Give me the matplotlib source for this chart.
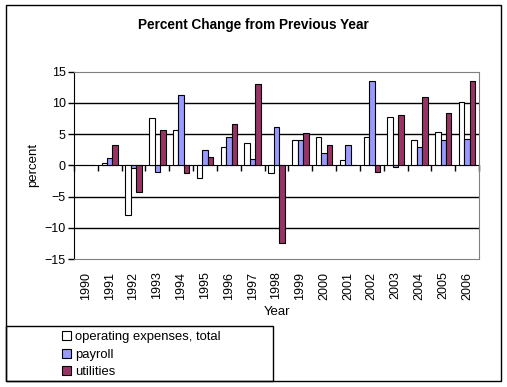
import matplotlib.pyplot as plt
import matplotlib.patches as mpatches
import numpy as np

plt.rcParams['font.family'] = ['Liberation Sans', 'DejaVu Sans']

# data
years = [str(y) for y in range(1990, 2007)]
operating = [0, 0.3, -8.0, 7.6, 5.6, -2.1, 3.0, 3.5, -1.3, 4.0, 4.6, 0.85, 4.5, 7.8, 4.0, 5.3, 10.2]
payroll = [0, 1.1, -0.5, -1.1, 11.2, 2.4, 4.6, 1.0, 6.2, 4.1, 1.9, 3.2, 13.5, -0.3, 3.0, 4.1, 4.3]
utilities = [0, 3.2, -4.3, 5.7, -1.3, 1.3, 6.7, 13.0, -12.5, 5.2, 3.3, 0, -1.1, 8.1, 11.0, 8.4, 13.5]
series_names = ['operating expenses, total', 'payroll', 'utilities']
colors = ['white', '#9999FF', '#993366']

W, H = 507, 387
fig = plt.figure(figsize=(W / 100, H / 100), dpi=100)
ax = fig.add_axes([74 / W, 1 - 259 / H, (479 - 74) / W, (259 - 71.7) / H])

x = np.arange(len(years))
w = 0.23
for k, (vals, c) in enumerate(zip([operating, payroll, utilities], colors)):
    ax.bar(x + (k - 1) * w, vals, w, color=c, edgecolor='black', linewidth=0.8, zorder=3)

ax.set_xlim(-0.5, len(years) - 0.5)
ax.set_ylim(-15, 15)
ax.set_yticks(range(-15, 16, 5))
for g in [-10, -5, 5, 10]:
    ax.axhline(g, color='black', linewidth=1, zorder=1)

ax.set_xticks(x)
ax.set_xticklabels(years, rotation=90, fontsize=9)
ax.tick_params(axis='x', length=0, pad=9)
ax.tick_params(axis='y', direction='out', length=4, width=1, labelsize=9, pad=2)

for s in ['top', 'right', 'bottom']:
    ax.spines[s].set_color('#808080')
ax.spines['left'].set_color('black')

# x axis line at zero with ticks between categories
sec = ax.secondary_xaxis(0.5)
sec.set_xticks(np.arange(-0.5, len(years), 1))
sec.set_xticklabels([])
sec.xaxis.set_ticks_position('bottom')
sec.tick_params(direction='out', length=4, width=1, color='black')
for s in sec.spines.values():
    s.set_color('black')

ax.set_ylabel('percent', fontsize=9.5, labelpad=4)
ax.set_xlabel('Year', fontsize=9.5, labelpad=5)
fig.text(253 / W, 1 - 25 / H, 'Percent Change from Previous Year', ha='center', va='center',
         fontsize=9.8, fontweight='bold')

# outer border and legend box
fig.patches.append(mpatches.Rectangle((5.7 / W, 1 - 380.7 / H), 495 / W, 375.4 / H,
                                      transform=fig.transFigure, fill=False,
                                      edgecolor='black', linewidth=1))
fig.patches.append(mpatches.Rectangle((5.7 / W, 1 - 380.7 / H), 267.3 / W, 55 / H,
                                      transform=fig.transFigure, fill=False,
                                      edgecolor='black', linewidth=1))

handles = [mpatches.Patch(facecolor=c, edgecolor='black', linewidth=0.8) for c in colors]
fig.legend(handles, series_names, loc='upper left', bbox_to_anchor=(53 / W, 1 - 322 / H),
           frameon=False, fontsize=9.4, handlelength=0.7, handleheight=0.7,
           handletextpad=0.3, labelspacing=0.4, borderpad=0.2)

fig.savefig('out.png', dpi=100)
